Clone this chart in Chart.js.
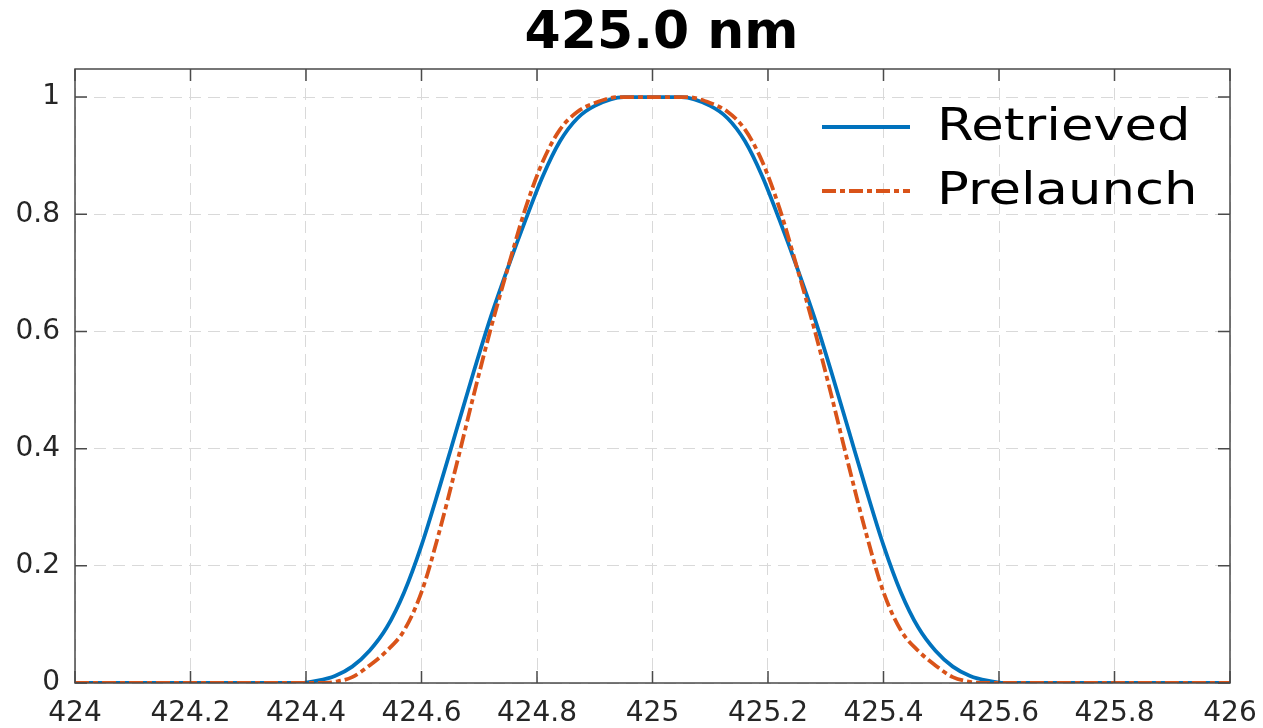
<!DOCTYPE html>
<html lang="en">
<head>
    <meta charset="UTF-8">
    <title>425.0 nm</title>
    <script src="https://cdn.jsdelivr.net/npm/chart.js"></script>
    <style>
        body {
            margin: 0;
            background-color: #ffffff;
            overflow: hidden;
        }
        .chart-container {
            width: 1263px;
            height: 728px;
        }
        canvas {
            display: block;
        }
    </style>
</head>
<body>
    <div class="chart-container">
        <canvas id="bandChart"></canvas>
    </div>

    <script>
        // values
        const retrievedWl = [424.0, 424.39, 424.42, 424.45, 424.48, 424.51, 424.54, 424.57, 424.60, 424.63, 424.66, 424.69, 424.72, 424.75, 424.78, 424.81, 424.84, 424.87, 424.90, 424.95, 425.05, 425.10, 425.13, 425.16, 425.19, 425.22, 425.25, 425.28, 425.31, 425.34, 425.37, 425.40, 425.43, 425.46, 425.49, 425.52, 425.55, 425.58, 425.61, 426.0];
        const retrievedVal = [0, 0, 0.004, 0.012, 0.028, 0.055, 0.095, 0.155, 0.235, 0.33, 0.43, 0.53, 0.625, 0.71, 0.79, 0.865, 0.925, 0.964, 0.985, 1.0, 1.0, 0.985, 0.964, 0.925, 0.865, 0.79, 0.71, 0.625, 0.53, 0.43, 0.33, 0.235, 0.155, 0.095, 0.055, 0.028, 0.012, 0.004, 0, 0];

        const prelaunchWl = [424.0, 424.43, 424.45, 424.48, 424.51, 424.54, 424.57, 424.60, 424.63, 424.66, 424.69, 424.72, 424.75, 424.78, 424.81, 424.84, 424.87, 424.90, 424.94, 425.06, 425.10, 425.13, 425.16, 425.19, 425.22, 425.25, 425.28, 425.31, 425.34, 425.37, 425.40, 425.43, 425.46, 425.49, 425.52, 425.55, 425.57, 426.0];
        const prelaunchVal = [0, 0, 0.002, 0.01, 0.03, 0.055, 0.09, 0.155, 0.255, 0.37, 0.49, 0.605, 0.71, 0.81, 0.89, 0.945, 0.975, 0.99, 1.0, 1.0, 0.99, 0.975, 0.945, 0.89, 0.81, 0.71, 0.605, 0.49, 0.37, 0.255, 0.155, 0.09, 0.055, 0.03, 0.01, 0.002, 0, 0];

        const xTicks = [424, 424.2, 424.4, 424.6, 424.8, 425, 425.2, 425.4, 425.6, 425.8, 426];
        const yTicks = [0, 0.2, 0.4, 0.6, 0.8, 1];
        const titleText = '425.0 nm';

        const axisColor = '#262626';
        const fontFamily = "'DejaVu Sans', sans-serif";

        const toPoints = (xs, ys) => xs.map((x, i) => ({ x: x, y: ys[i] }));

        // title a bit right of the plot centre, like in the original figure
        const titlePlugin = {
            id: 'figTitle',
            afterDraw(chart) {
                const { ctx, chartArea: a } = chart;
                ctx.save();
                ctx.fillStyle = '#000000';
                ctx.font = 'bold 52px ' + fontFamily;
                ctx.textAlign = 'center';
                ctx.textBaseline = 'middle';
                ctx.fillText(titleText, (a.left + a.right) / 2 + 9, a.top - 35);
                ctx.restore();
            }
        };

        // box round the plot with inward ticks on all four sides (matlab look)
        const boxPlugin = {
            id: 'box',
            afterDatasetsDraw(chart) {
                const { ctx, chartArea: a, scales } = chart;
                const len = 12;
                ctx.save();
                ctx.strokeStyle = '#4a4a4a';
                ctx.lineWidth = 1.5;
                ctx.strokeRect(a.left, a.top, a.right - a.left, a.bottom - a.top);
                ctx.beginPath();
                scales.x.ticks.forEach(t => {
                    const px = scales.x.getPixelForValue(t.value);
                    ctx.moveTo(px, a.bottom); ctx.lineTo(px, a.bottom - len);
                    ctx.moveTo(px, a.top); ctx.lineTo(px, a.top + len);
                });
                scales.y.ticks.forEach(t => {
                    const py = scales.y.getPixelForValue(t.value);
                    ctx.moveTo(a.left, py); ctx.lineTo(a.left + len, py);
                    ctx.moveTo(a.right, py); ctx.lineTo(a.right - len, py);
                });
                ctx.stroke();
                ctx.restore();
            }
        };

        // legend inside the plot, top right, no frame
        const insideLegend = {
            id: 'insideLegend',
            afterDraw(chart) {
                const { ctx, chartArea: a } = chart;
                ctx.save();
                chart.data.datasets.forEach((ds, i) => {
                    const y = a.top + 58 + i * 64;
                    ctx.strokeStyle = ds.borderColor;
                    ctx.lineWidth = 3.8;
                    ctx.setLineDash(ds.borderDash || []);
                    ctx.beginPath();
                    ctx.moveTo(a.right - 408, y);
                    ctx.lineTo(a.right - 320, y);
                    ctx.stroke();
                    ctx.setLineDash([]);
                    ctx.fillStyle = '#000000';
                    ctx.font = '44px ' + fontFamily;
                    ctx.textBaseline = 'middle';
                    ctx.translate(a.right - 293, y + 2);
                    ctx.scale(1.2, 1);
                    ctx.fillText(ds.label, 0, 0);
                    ctx.setTransform(1, 0, 0, 1, 0, 0);
                });
                ctx.restore();
            }
        };

        const ctx = document.getElementById('bandChart').getContext('2d');
        new Chart(ctx, {
            type: 'line',
            data: {
                datasets: [{
                    label: 'Retrieved',
                    data: toPoints(retrievedWl, retrievedVal),
                    borderColor: '#0072BD',
                    borderWidth: 3.8,
                    pointRadius: 0,
                    cubicInterpolationMode: 'monotone',
                    order: 1
                }, {
                    label: 'Prelaunch',
                    data: toPoints(prelaunchWl, prelaunchVal),
                    borderColor: '#D95319',
                    borderWidth: 3.8,
                    borderDash: [14, 4, 5, 4],
                    pointRadius: 0,
                    cubicInterpolationMode: 'monotone',
                    order: 0
                }]
            },
            options: {
                responsive: true,
                maintainAspectRatio: false,
                animation: false,
                layout: { padding: { left: 0, right: 33, top: 69, bottom: 0 } },
                plugins: {
                    legend: { display: false },
                    tooltip: { enabled: false },
                    title: { display: false }
                },
                scales: {
                    x: {
                        type: 'linear',
                        min: 424,
                        max: 426,
                        afterBuildTicks: s => { s.ticks = xTicks.map(v => ({ value: v })); },
                        afterFit: s => {
                            s.height = 45;
                            // end labels may hang over; keep the plot box where it is
                            s.paddingLeft = 0;
                            s.paddingRight = 0;
                        },
                        grid: { color: '#d9d9d9', lineWidth: 1, drawTicks: false },
                        border: { display: false, dash: [12, 7] },
                        ticks: {
                            color: axisColor,
                            padding: 14,
                            maxRotation: 0,
                            font: { family: fontFamily, size: 28 },
                            callback: v => String(Number(v.toFixed(1)))
                        }
                    },
                    y: {
                        min: 0,
                        max: 1.048,
                        afterBuildTicks: s => { s.ticks = yTicks.map(v => ({ value: v })); },
                        afterFit: s => { s.width = 75; },
                        grid: { color: '#d9d9d9', lineWidth: 1, drawTicks: false },
                        border: { display: false, dash: [12, 7] },
                        ticks: {
                            color: axisColor,
                            padding: 15,
                            font: { family: fontFamily, size: 28 },
                            callback: v => String(Number(v.toFixed(1)))
                        }
                    }
                }
            },
            plugins: [boxPlugin, insideLegend, titlePlugin]
        });
    </script>
</body>
</html>
